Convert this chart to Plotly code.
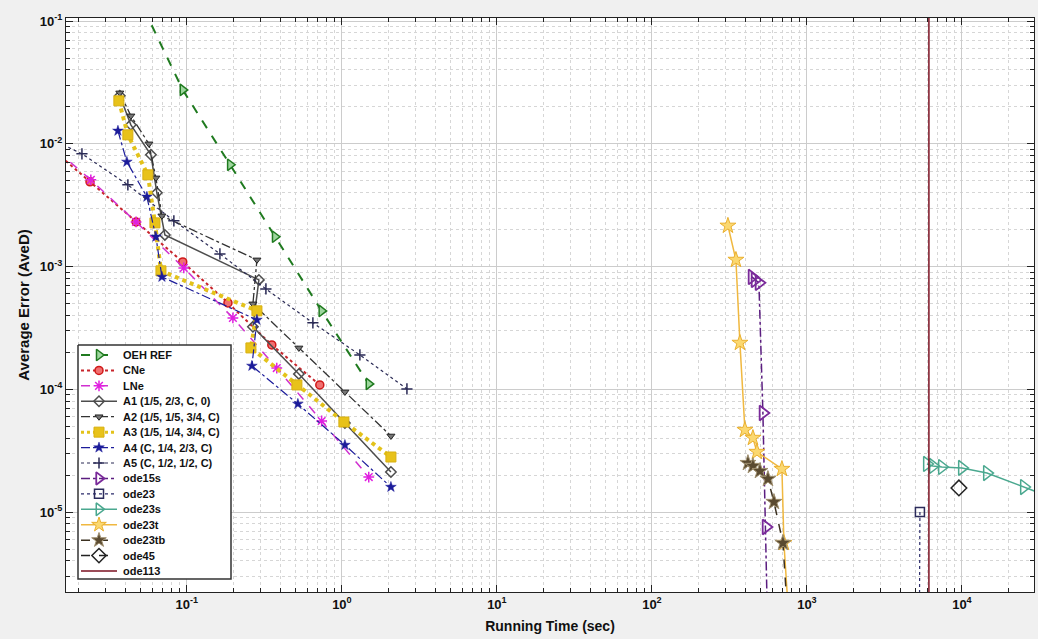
import plotly.graph_objects as go

# ---------------- data ----------------
oeh_x = [0.047, 0.094, 0.19, 0.37, 0.74, 1.49]
oeh_y = [0.17, 0.0275, 0.00675, 0.00175, 4.35e-4, 1.107e-4]

cne_x = [0.0118, 0.0237, 0.047, 0.094, 0.184, 0.353, 0.72]
cne_y = [0.0105, 0.0049, 0.00231, 0.00109, 5.06e-4, 2.3e-4, 1.086e-4]

lne_x = [0.0118, 0.024, 0.047, 0.0955, 0.198, 0.38, 0.74, 1.49]
lne_y = [0.0110, 0.00509, 0.00231, 9.75e-4, 3.82e-4, 1.49e-4, 5.52e-5, 1.93e-5]

a1_x = [0.0369, 0.0435, 0.0586, 0.0640, 0.0721, 0.2914, 0.2666, 0.5277, 1.0456, 2.071]
a1_y = [0.0246, 0.01428, 0.00814, 0.00399, 0.00181, 7.79e-4, 3.23e-4, 1.335e-4, 5.32e-5, 2.12e-5]

a2_x = [0.0369, 0.0435, 0.0569, 0.0631, 0.0690, 0.2830, 0.2666, 0.5277, 1.0456, 2.071]
a2_y = [0.0260, 0.0169, 0.01, 0.00528, 0.00259, 0.001134, 4.97e-4, 2.175e-4, 9.52e-5, 4.17e-5]

a3_x = [0.0364, 0.0416, 0.0560, 0.0622, 0.0680, 0.2830, 0.2588, 0.5124, 1.030, 2.071]
a3_y = [0.0224, 0.01184, 0.00559, 0.00227, 9.23e-4, 4.36e-4, 2.175e-4, 1.086e-4, 5.42e-5, 2.81e-5]

a4_x = [0.0359, 0.0410, 0.0552, 0.0631, 0.0690, 0.2830, 0.2627, 0.5200, 1.0456, 2.071]
a4_y = [0.01276, 0.00713, 0.00370, 0.00175, 8.24e-4, 3.68e-4, 1.552e-4, 7.60e-5, 3.52e-5, 1.601e-5]

a5_x = [0.0106, 0.02103, 0.0416, 0.0824, 0.1633, 0.3234, 0.6497, 1.306, 2.627]
a5_y = [0.01253, 0.00829, 0.00463, 0.00236, 0.001269, 6.58e-4, 3.48e-4, 1.907e-4, 1.0076e-4]

ode15s_x = [441.8, 462.0, 490.0, 520.0, 544.0, 560.0]
ode15s_y = [8.24e-4, 7.79e-4, 7.37e-4, 6.42e-5, 7.56e-6, 9.1e-7]

ode23_x = [5358, 5300]
ode23_y = [1.0e-5, 5e-7]

ode23s_x = [5945, 6500, 7430, 10000, 14500, 25120, 34320]
ode23s_y = [2.466e-5, 2.375e-5, 2.33e-5, 2.29e-5, 2.08e-5, 1.60e-5, 1.378e-5]

ode23t_x = [309.3, 348.3, 369.6, 398.1, 448.4, 475.9, 689.9, 710.7, 765.0]
ode23t_y = [0.00215, 0.001134, 2.39e-4, 4.67e-5, 4.02e-5, 3.09e-5, 2.245e-5, 5.6e-6, 1.32e-6]

ode23tb_x = [416.3, 448.4, 497.7, 560.4, 612.6, 700.3, 754.0]
ode23tb_y = [2.51e-5, 2.375e-5, 2.16e-5, 1.862e-5, 1.209e-5, 5.6e-6, 1.32e-6]

ode45_x = [9563]
ode45_y = [1.572e-5]

ode113_x = [6124, 6124]
ode113_y = [1.0, 1e-7]

x_tickvals = [0.1, 1, 10, 100, 1000, 10000]
x_ticktext = ["10<sup>-1</sup>", "10<sup>0</sup>", "10<sup>1</sup>", "10<sup>2</sup>",
              "10<sup>3</sup>", "10<sup>4</sup>"]
y_tickvals = [1e-5, 1e-4, 1e-3, 1e-2, 1e-1]
y_ticktext = ["10<sup>-5</sup>", "10<sup>-4</sup>", "10<sup>-3</sup>", "10<sup>-2</sup>",
              "10<sup>-1</sup>"]

# ---------------- styles ----------------
FONT = "Liberation Sans, Arial, sans-serif"

# name, x, y, line color, dash, width, symbol, size, fill, edge, edge width, has marker
series = [
    ("OEH REF", oeh_x, oeh_y, "#1f7a1f", "dash", 2, "triangle-right", 10, "#9ed69e", "#1f7a1f", 1.5, True),
    ("CNe", cne_x, cne_y, "#c8242b", "dot", 2, "circle", 8, "#f07070", "#d01818", 1.5, True),
    ("LNe", lne_x, lne_y, "#d030d0", "dash", 1.5, "asterisk-open", 9, "#e020e0", "#e020e0", 1.5, True),
    ("A1 (1/5, 2/3, C, 0)", a1_x, a1_y, "#4d4d4d", "solid", 1.5, "diamond-open", 8, "#4d4d4d", "#4d4d4d", 1.5, True),
    ("A2 (1/5, 1/5, 3/4, C)", a2_x, a2_y, "#333333", "dashdot", 1.3, "triangle-down", 7, "#777777", "#222222", 1, True),
    ("A3 (1/5, 1/4, 3/4, C)", a3_x, a3_y, "#e3c21a", "dot", 4, "square", 10, "#e8c21a", "#d8b010", 1, True),
    ("A4 (C, 1/4, 2/3, C)", a4_x, a4_y, "#1c1c9a", "dashdot", 1.2, "star", 8, "#1c1c9a", "#1c1c9a", 0.5, True),
    ("A5 (C, 1/2, 1/2, C)", a5_x, a5_y, "#2a2a55", "dot", 1.2, "cross-thin-open", 8, "#2a2a55", "#2a2a55", 1.5, True),
    ("ode15s", ode15s_x, ode15s_y, "#5b1d80", "dashdot", 1.5, "triangle-right-open", 13, "#7a2a9a", "#7a2a9a", 1.8, True),
    ("ode23", ode23_x, ode23_y, "#2b2b6b", "dot", 1.2, "square-open", 9, "#2b2b5b", "#2b2b5b", 1.5, True),
    ("ode23s", ode23s_x, ode23s_y, "#4aa88f", "solid", 1.5, "triangle-right-open", 13, "#4aa88f", "#4aa88f", 1.5, True),
    ("ode23t", ode23t_x, ode23t_y, "#f0b840", "solid", 1.5, "star", 12, "#fbd870", "#eab030", 1, True),
    ("ode23tb", ode23tb_x, ode23tb_y, "#3b3020", "dash", 1.5, "star", 12, "#5a4a30", "#a09070", 1, True),
    ("ode45", ode45_x, ode45_y, "#222222", "dash", 1.5, "diamond-open", 12, "#222222", "#222222", 1.5, True),
    ("ode113", ode113_x, ode113_y, "#7a1020", "solid", 1.5, "circle", 1, "#7a1020", "#7a1020", 0, False),
]

fig = go.Figure()

for (name, x, y, lc, dash, lw, sym, ms, mf, me, mew, hasm) in series:
    fig.add_trace(go.Scatter(
        x=x, y=y, name=name, mode="lines+markers" if hasm else "lines",
        line=dict(color=lc, dash=dash, width=lw),
        marker=dict(symbol=sym, size=ms, color=mf, line=dict(color=me, width=mew)),
        showlegend=False,
    ))

# ---------------- hand-drawn legend on a pixel overlay axis ----------------
LX0, LX1, LY0, LY1 = 78, 231, 345, 579     # legend box (pixels)
ROW0, ROWSTEP = 355, 15.43
fig.add_trace(go.Scatter(
    x=[LX0, LX1, LX1, LX0, LX0], y=[LY0, LY0, LY1, LY1, LY0],
    xaxis="x2", yaxis="y2", mode="lines", fill="toself", fillcolor="#ffffff",
    line=dict(color="#333333", width=1.5), showlegend=False, hoverinfo="skip",
))
annotations = []
for i, (name, x, y, lc, dash, lw, sym, ms, mf, me, mew, hasm) in enumerate(series):
    ry = ROW0 + i * ROWSTEP
    fig.add_trace(go.Scatter(
        x=[81, 117], y=[ry, ry], xaxis="x2", yaxis="y2", mode="lines",
        line=dict(color=lc, dash=dash, width=min(lw, 3)), showlegend=False, hoverinfo="skip",
    ))
    if hasm:
        fig.add_trace(go.Scatter(
            x=[99], y=[ry], xaxis="x2", yaxis="y2", mode="markers",
            marker=dict(symbol=sym, size=min(ms, 11), color=mf, line=dict(color=me, width=mew)),
            showlegend=False, hoverinfo="skip",
        ))
    annotations.append(dict(
        x=121, y=ry, xref="x2", yref="y2", text=name, showarrow=False,
        xanchor="left", yanchor="middle",
        font=dict(family=FONT, size=11, color="#111111", weight="bold"),
    ))

minor_x = [m * 10.0 ** k for k in range(-2, 5) for m in range(2, 10)]
minor_y = [m * 10.0 ** k for k in range(-7, 0) for m in range(2, 10)]

axis_common = dict(
    type="log",
    showline=True, linecolor="#222222", linewidth=1, mirror="ticks",
    ticks="inside", ticklen=7, tickcolor="#222222", tickwidth=1,
    showgrid=True, gridcolor="#cccccc", gridwidth=1,
    zeroline=False,
    tickfont=dict(family=FONT, size=13, color="#111111", weight="bold"),
)

xaxis = dict(**axis_common, range=[-1.78, 4.465], tickmode="array",
             tickvals=x_tickvals, ticktext=x_ticktext,
             minor=dict(tickmode="array", tickvals=minor_x, ticks="inside", ticklen=4,
                        tickcolor="#222222", showgrid=True, gridcolor="#d6d6d6",
                        griddash="dot", gridwidth=1),
             title=dict(text="Running Time (sec)", standoff=10,
                        font=dict(family=FONT, size=14, color="#111111", weight="bold")))
yaxis = dict(**axis_common, range=[-5.651, -0.975], tickmode="array",
             tickvals=y_tickvals, ticktext=y_ticktext,
             minor=dict(tickmode="array", tickvals=minor_y, ticks="inside", ticklen=4,
                        tickcolor="#222222", showgrid=True, gridcolor="#d6d6d6",
                        griddash="dot", gridwidth=1),
             title=dict(text="Average Error (AveD)", standoff=6,
                        font=dict(family=FONT, size=15, color="#111111", weight="bold")))

fig.update_layout(
    width=1038, height=639,
    margin=dict(l=66, r=4, t=18, b=47),
    paper_bgcolor="#f0f0f0", plot_bgcolor="#ffffff",
    font=dict(family=FONT, color="#111111"),
    showlegend=False,
    xaxis=xaxis, yaxis=yaxis,
    xaxis2=dict(overlaying="x", anchor="y2", range=[66, 1034], visible=False,
                showgrid=False, zeroline=False),
    yaxis2=dict(overlaying="y", anchor="x2", range=[592, 18], visible=False,
                showgrid=False, zeroline=False),
    annotations=annotations,
)

fig.write_html("out.html")
